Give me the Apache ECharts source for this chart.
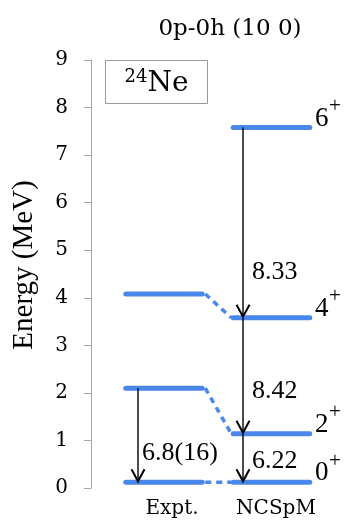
<!DOCTYPE html>
<html>
<head>
<meta charset="utf-8">
<script src="https://cdn.jsdelivr.net/npm/echarts@6/dist/echarts.min.js"></script>
<style>html,body{margin:0;padding:0;background:#fff}#c{width:346px;height:530px}</style>
</head>
<body>
<div id="c"></div>
<script>
// ---- data ----
const titleText = '0p-0h (10 0)';
const nucleusMass = '24';
const nucleusSymbol = 'Ne';
const columns = ['Expt.', 'NCSpM'];
const spins = ['0', '2', '4', '6'];
const parity = '+';
const exptLevels = [0.12, 2.10, 4.08];          // 0+, 2+, 4+
const ncspmLevels = [0.12, 1.14, 3.58, 7.58];   // 0+, 2+, 4+, 6+
const exptBE2 = ['6.8(16)'];                    // 2+ -> 0+
const ncspmBE2 = ['6.22', '8.42', '8.33'];      // 2->0, 4->2, 6->4
const yTickLabels = ['0','1','2','3','4','5','6','7','8','9'];
const yAxisName = 'Energy (MeV)';

// ---- layout (x in axis units) ----
const L = {
  colCenter: [2.92, 7.22], halfW: 1.53, labelPos: [3.24, 7.4],
  arrowX: [1.88, 6.08], be2X: [2.04, 6.44],
  be2YExpt: [0.74], be2YNcspm: [0.57, 2.04, 4.54], spinX: 8.96
};
const BLUE = '#4a87ea';
const SERIF = 'Liberation Serif';
const WIDE = 'DejaVu Serif';
const INK = '#000';

function levelRender(params, api) {
  const c = api.value(0), v = api.value(1);
  const p1 = api.coord([c - L.halfW, v]), p2 = api.coord([c + L.halfW, v]);
  return {type: 'line', shape: {x1: p1[0], y1: p1[1], x2: p2[0], y2: p2[1]},
    style: {stroke: BLUE, lineWidth: 5, lineCap: 'round'}};
}
function connRender(params, api) {
  const a = api.value(0), b = api.value(1);
  const p1 = api.coord([L.colCenter[0] + L.halfW, a]);
  const p2 = api.coord([L.colCenter[1] - L.halfW, b]);
  return {type: 'line', shape: {x1: p1[0] + 3, y1: p1[1], x2: p2[0] - 2, y2: p2[1]},
    style: {stroke: BLUE, lineWidth: 3.5, lineDash: [6, 5]}};
}
const arrowTexts = [];
const arrowData = [];
exptBE2.forEach((t, i) => { arrowData.push([L.arrowX[0], exptLevels[i + 1], exptLevels[i], L.be2X[0], L.be2YExpt[i]]); arrowTexts.push(t); });
ncspmBE2.forEach((t, i) => { arrowData.push([L.arrowX[1], ncspmLevels[i + 1], ncspmLevels[i], L.be2X[1], L.be2YNcspm[i]]); arrowTexts.push(t); });
function arrowRender(params, api) {
  const x = api.value(0);
  const p1 = api.coord([x, api.value(1)]), p2 = api.coord([x, api.value(2)]);
  const lp = api.coord([api.value(3), api.value(4)]);
  const tx = p2[0], ty = p2[1] - 1;
  return {type: 'group', children: [
    {type: 'line', shape: {x1: p1[0], y1: p1[1], x2: tx, y2: ty}, style: {stroke: INK, lineWidth: 1.4}},
    {type: 'polyline', shape: {points: [[tx - 6.5, ty - 12], [tx, ty], [tx + 6.5, ty - 12]]}, style: {stroke: INK, lineWidth: 2, fill: 'none'}},
    {type: 'text', x: lp[0], y: lp[1], style: {text: arrowTexts[params.dataIndex], fill: INK, fontFamily: SERIF, fontSize: 26, align: 'left', verticalAlign: 'middle'}}
  ]};
}
function spinRender(params, api) {
  const p = api.coord([api.value(0), api.value(1)]);
  return {type: 'group', children: [
    {type: 'text', x: p[0], y: p[1] - 9, style: {text: spins[params.dataIndex], fill: INK, fontFamily: SERIF, fontSize: 27, align: 'left', verticalAlign: 'middle'}},
    {type: 'text', x: p[0] + 14, y: p[1] - 21, style: {text: parity, fill: INK, fontFamily: SERIF, fontSize: 21, align: 'left', verticalAlign: 'middle'}}
  ]};
}

const chart = echarts.init(document.getElementById('c'), null, {renderer: 'canvas'});
chart.setOption({
  backgroundColor: '#fff',
  animation: false,
  title: {text: titleText, left: 225, top: 13, textAlign: 'center',
    textStyle: {fontFamily: WIDE, fontSize: 23, fontWeight: 'normal', color: INK}},
  grid: {left: 91, right: 5, top: 60, bottom: 42},
  xAxis: {type: 'value', min: 0, max: 10,
    axisLine: {show: false}, axisTick: {show: false}, splitLine: {show: false},
    axisLabel: {customValues: L.labelPos, margin: 11, fontFamily: WIDE, fontSize: 20, color: INK,
      formatter: v => columns[Math.abs(v - L.labelPos[0]) < Math.abs(v - L.labelPos[1]) ? 0 : 1]}},
  yAxis: {type: 'value', min: 0, max: 9, interval: 1,
    name: yAxisName, nameLocation: 'middle', nameRotate: 90, nameGap: 52,
    nameTextStyle: {fontFamily: SERIF, fontSize: 29, color: INK, padding: [0, 0, 0, 18]},
    axisLine: {show: true, lineStyle: {color: '#a6a6a6', width: 1}},
    axisTick: {show: true, length: 7, lineStyle: {color: '#a6a6a6'}},
    splitLine: {show: false},
    axisLabel: {margin: 23, fontFamily: WIDE, fontSize: 20, color: INK, formatter: v => yTickLabels[v]}},
  graphic: [
    {type: 'rect', shape: {x: 105.5, y: 60.5, width: 102, height: 43}, style: {fill: 'none', stroke: '#9a9a9a', lineWidth: 1}},
    {type: 'text', x: 156.5, y: 84, style: {text: '{s|' + nucleusMass + '}{b|' + nucleusSymbol + '}', fill: INK, align: 'center', verticalAlign: 'middle',
      rich: {s: {fontFamily: WIDE, fontSize: 18, lineHeight: 16, verticalAlign: 'top', fill: INK},
             b: {fontFamily: WIDE, fontSize: 28, lineHeight: 32, fill: INK}}}}
  ],
  series: [
    {type: 'custom', renderItem: connRender, data: exptLevels.map((v, i) => [v, ncspmLevels[i]]), z: 1},
    {type: 'custom', renderItem: levelRender, data: exptLevels.map(v => [L.colCenter[0], v]), z: 2},
    {type: 'custom', renderItem: levelRender, data: ncspmLevels.map(v => [L.colCenter[1], v]), z: 2},
    {type: 'custom', renderItem: arrowRender, data: arrowData, z: 3},
    {type: 'custom', renderItem: spinRender, data: ncspmLevels.map(v => [L.spinX, v]), z: 3}
  ]
});
</script>
</body>
</html>
